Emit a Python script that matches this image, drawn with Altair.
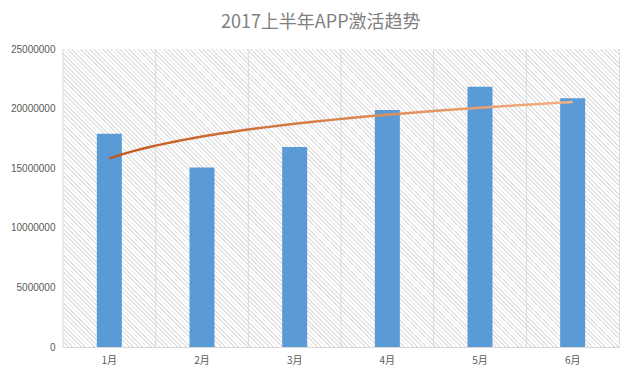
import altair as alt
import pandas as pd

months = ["1月", "2月", "3月", "4月", "5月", "6月"]
month_index = [1, 2, 3, 4, 5, 6]
activations = [17900000, 15050000, 16780000, 19880000, 21840000, 20860000]
y_ticks = [0, 5000000, 10000000, 15000000, 20000000, 25000000]

W, H = 556, 298

df = pd.DataFrame({"month": months, "idx": month_index, "value": activations})

# ---- diagonal hatch background built as a striped linear gradient ----
k = (W + H) / W
dx, dy = k, -k * H / W
span = (W + H) / 2 ** 0.5
period_px = 2.4
p = period_px / span
n = int(1 / p) + 1
stops = []
for i in range(n):
    a = i * p
    b = a + 0.4 * p
    c = (i + 1) * p
    if a > 1:
        break
    stops.append(alt.GradientStop(offset=min(a, 1), color="#e2e2e2"))
    stops.append(alt.GradientStop(offset=min(b, 1), color="#e2e2e2"))
    stops.append(alt.GradientStop(offset=min(b, 1), color="#ffffff"))
    stops.append(alt.GradientStop(offset=min(c, 1), color="#ffffff"))

hatch_fill = alt.LinearGradient(
    gradient="linear", stops=stops, x1=0, y1=1, x2=dx, y2=1 + dy
)

hatch = alt.Chart(alt.Data(values=[{"k": 0}])).mark_rect(fill=hatch_fill).encode(
    x=alt.value(0), x2=alt.value("width"), y=alt.value(0), y2=alt.value("height")
)

band_scale = alt.Scale(paddingInner=0, paddingOuter=0)

x_axis = alt.Axis(
    title=None,
    orient="bottom",
    labelAngle=0,
    ticks=False,
    domain=False,
    grid=False,
    labelPadding=8,
    labelFontSize=10,
    labelFont="Noto Sans CJK SC",
    labelColor="#595959",
)

y_enc = alt.Y(
    "value:Q",
    scale=alt.Scale(domain=[0, 25000000], nice=False),
    axis=alt.Axis(
        title=None,
        values=y_ticks,
        format="d",
        ticks=False,
        domain=False,
        grid=True,
        gridColor="#d9d9d9",
        gridWidth=1,
        labelPadding=8,
        labelFontSize=10,
        labelFont="Liberation Sans",
        labelColor="#595959",
    ),
)

vgrid = alt.Chart(df).mark_rule(color="#d9d9d9", strokeWidth=1).encode(
    x=alt.X("month:N", sort=months, bandPosition=0, scale=band_scale, axis=x_axis),
    y=alt.value(0),
    y2=alt.value("height"),
)

bars = alt.Chart(df).mark_bar(size=25, color="#5B9BD5").encode(
    x=alt.X("month:N", sort=months, scale=band_scale, axis=x_axis), y=y_enc
)

trend_grad = alt.LinearGradient(
    gradient="linear",
    stops=[
        alt.GradientStop(offset=0, color="#C0571B"),
        alt.GradientStop(offset=1, color="#F4B183"),
    ],
    x1=0, y1=0, x2=1, y2=0,
)

trend = (
    alt.Chart(df)
    .transform_regression("idx", "value", method="log")
    .mark_line(strokeWidth=2.5, color=trend_grad)
    .encode(
        x=alt.X("idx:Q", scale=alt.Scale(domain=[0.5, 6.5], nice=False, zero=False), axis=None),
        y=alt.Y("value:Q"),
    )
)

base = alt.layer(hatch, vgrid, bars)

chart = (
    alt.layer(base, trend)
    .resolve_scale(x="independent")
    .properties(
        width=W,
        height=H,
        title=alt.TitleParams(
            "2017上半年APP激活趋势",
            fontSize=18,
            font="Noto Sans CJK SC",
            fontWeight="normal",
            color="#7f7f7f",
            anchor="middle",
            frame="bounds",
            offset=12,
            dx=6,
        ),
        padding={"left": 2, "top": 6, "right": 5, "bottom": 5},
    )
    .configure_view(stroke="#d9d9d9", strokeWidth=1)
    .configure(background="white")
)

chart.save("out.html", embed_options={"renderer": "svg", "actions": False})
